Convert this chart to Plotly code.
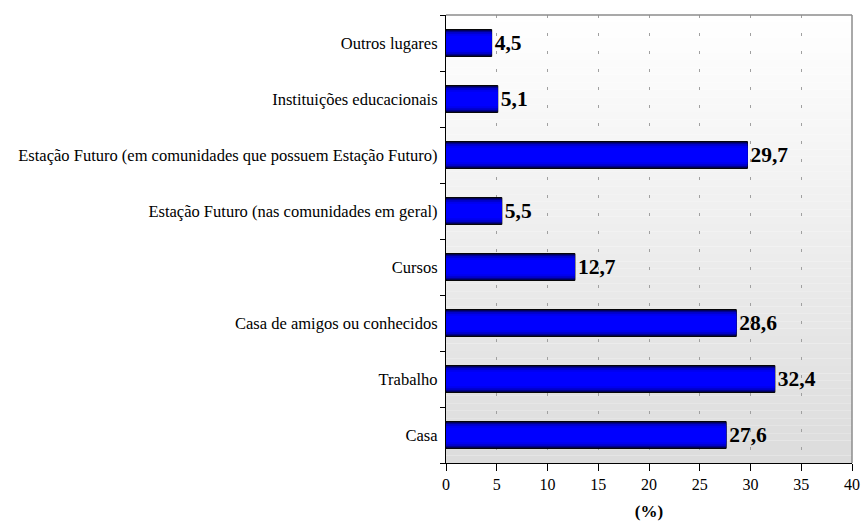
import plotly.graph_objects as go

categories = [
    "Casa",
    "Trabalho",
    "Casa de amigos ou conhecidos",
    "Cursos",
    "Estação Futuro (nas comunidades em geral)",
    "Estação Futuro (em comunidades que possuem Estação Futuro)",
    "Instituições educacionais",
    "Outros lugares",
]
values = [27.6, 32.4, 28.6, 12.7, 5.5, 29.7, 5.1, 4.5]
x_ticks = [0, 5, 10, 15, 20, 25, 30, 35, 40]

FONT = "Liberation Serif"

fig = go.Figure()

# layered bars to imitate the vertical gradient of the original bars
layers = [
    (0.48, "#00004c"),
    (0.44, "#000090"),
    (0.39, "#0000c8"),
    (0.33, "#0000ee"),
    (0.26, "#0000ff"),
]
for i, (w, c) in enumerate(layers):
    kw = {}
    if i == 0:
        kw = dict(
            text=["<b>" + f"{v:.1f}".replace(".", ",") + "</b>" for v in values],
            textposition="outside",
            textfont=dict(family=FONT, size=21.5, color="#000000"),
        )
    fig.add_trace(go.Bar(
        y=categories, x=values, orientation="h", width=w,
        marker=dict(color=c, line=dict(color="#000000", width=1 if i == 0 else 0)),
        cliponaxis=False,
        showlegend=False,
        **kw,
    ))

# gradient background of plot area
n = 60
for k in range(n):
    t = k / (n - 1)
    g = int(round(255 - (255 - 220) * t))
    fig.add_shape(type="rect", xref="x domain", yref="y domain",
                  x0=0, x1=1, y0=1 - (k + 1) / n, y1=1 - k / n,
                  fillcolor=f"rgb({g},{g},{g})", line=dict(width=0),
                  layer="below")
# frame (top and right)
fig.add_shape(type="line", xref="x domain", yref="y domain",
              x0=0, x1=1, y0=1, y1=1, line=dict(color="#8c8c8c", width=1.5))
fig.add_shape(type="line", xref="x domain", yref="y domain",
              x0=1, x1=1, y0=0, y1=1, line=dict(color="#8c8c8c", width=1.5))

fig.update_layout(
    width=862, height=525,
    margin=dict(l=446, r=10, t=15, b=62),
    barmode="overlay",
    paper_bgcolor="#ffffff",
    plot_bgcolor="rgba(0,0,0,0)",
    font=dict(family=FONT, color="#000000"),
)
fig.update_xaxes(
    range=[0, 40], tickvals=x_ticks, ticks="outside", ticklen=7, tickcolor="#000",
    showline=True, linecolor="#000", linewidth=1, automargin=False,
    showgrid=True, gridcolor="#a0a0a0", gridwidth=1, griddash="3px,15px",
    tickfont=dict(family=FONT, size=16), zeroline=False,
    title=dict(text="<b>(%)</b>", font=dict(family=FONT, size=17), standoff=12),
)
fig.update_yaxes(
    type="category", categoryorder="array", categoryarray=categories,
    ticks="outside", ticklen=5, tickcolor="#000", tickson="boundaries",
    showline=True, linecolor="#000", linewidth=1, showgrid=False, automargin=False,
    tickfont=dict(family=FONT, size=16.5), ticksuffix=" ",
)

fig.write_html("out.html")
